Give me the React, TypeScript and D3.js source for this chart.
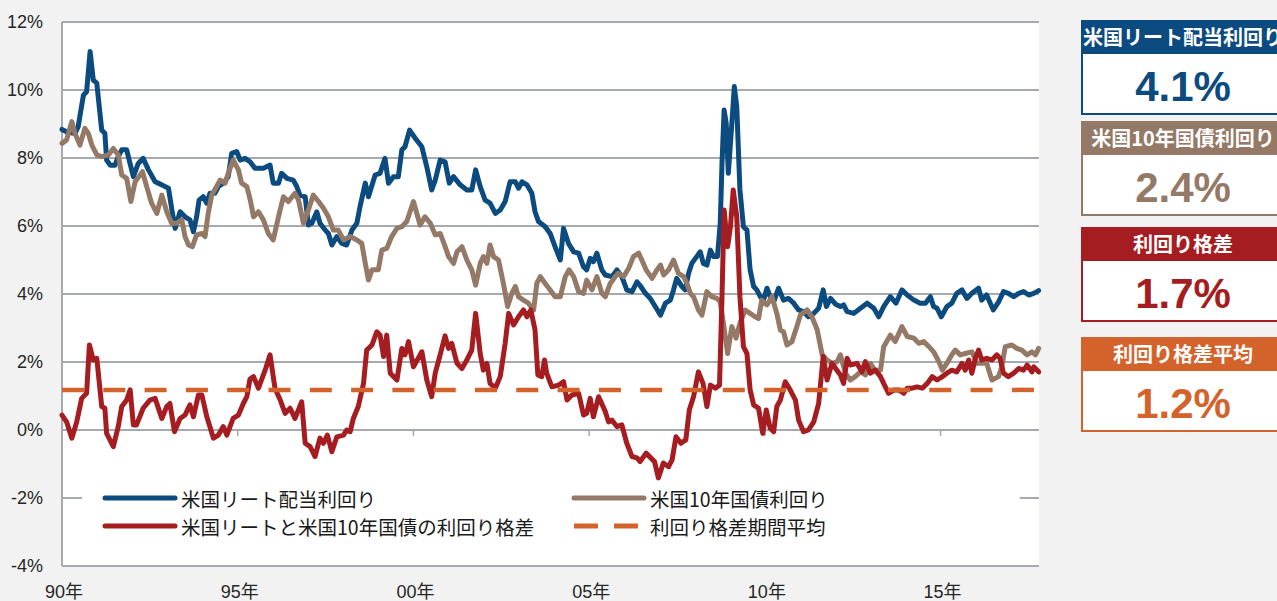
import React from 'react';
import * as d3 from 'd3';

// [decimal year, yield %]
const reitYield: [number, number][] = [
  [1990.00, 8.84], [1990.13, 8.77], [1990.37, 8.72], [1990.46, 8.92], [1990.61, 9.85], [1990.70, 9.95],
  [1990.80, 11.13], [1990.89, 10.29], [1990.99, 10.20], [1991.13, 8.82], [1991.22, 8.73], [1991.27, 7.94],
  [1991.37, 7.79], [1991.51, 7.79], [1991.60, 8.04], [1991.70, 8.24], [1991.84, 8.24], [1992.03, 7.45],
  [1992.17, 7.84], [1992.31, 7.99], [1992.46, 7.65], [1992.65, 7.30], [1992.84, 7.21], [1993.03, 7.11],
  [1993.12, 6.52], [1993.22, 5.93], [1993.36, 6.42], [1993.50, 6.27], [1993.64, 6.18], [1993.74, 5.83],
  [1993.83, 6.27], [1993.90, 6.76], [1994.02, 6.86], [1994.12, 6.67], [1994.21, 6.96], [1994.35, 6.96],
  [1994.45, 7.16], [1994.59, 7.26], [1994.73, 7.45], [1994.83, 8.14], [1994.97, 8.19], [1995.07, 7.94],
  [1995.21, 7.99], [1995.35, 7.89], [1995.49, 7.70], [1995.73, 7.70], [1995.92, 7.79], [1996.01, 7.26],
  [1996.16, 7.26], [1996.25, 7.55], [1996.40, 7.40], [1996.58, 7.35], [1996.68, 7.16], [1996.77, 6.91],
  [1996.92, 6.86], [1997.01, 6.03], [1997.11, 6.08], [1997.25, 6.42], [1997.34, 6.08], [1997.49, 5.88],
  [1997.58, 5.78], [1997.68, 5.44], [1997.82, 5.69], [1997.96, 5.49], [1998.10, 5.44], [1998.25, 5.88],
  [1998.39, 6.08], [1998.48, 6.57], [1998.63, 7.26], [1998.72, 6.86], [1998.91, 7.50], [1999.05, 7.55],
  [1999.19, 7.99], [1999.29, 7.26], [1999.43, 7.45], [1999.57, 7.45], [1999.67, 8.24], [1999.76, 8.33],
  [1999.89, 8.82], [2000.05, 8.58], [2000.24, 8.33], [2000.38, 7.74], [2000.52, 7.06], [2000.62, 7.35],
  [2000.76, 7.94], [2000.90, 7.89], [2001.02, 7.26], [2001.14, 7.45], [2001.33, 7.21], [2001.52, 7.06],
  [2001.66, 7.06], [2001.77, 7.65], [2001.90, 7.16], [2002.04, 6.76], [2002.18, 6.67], [2002.33, 6.37],
  [2002.47, 6.47], [2002.61, 6.72], [2002.75, 7.30], [2002.90, 7.30], [2002.99, 7.11], [2003.09, 7.30],
  [2003.23, 7.21], [2003.37, 6.96], [2003.46, 6.42], [2003.56, 6.13], [2003.75, 5.98], [2003.89, 5.78],
  [2004.03, 5.39], [2004.18, 5.00], [2004.27, 5.93], [2004.41, 5.49], [2004.56, 5.24], [2004.70, 5.20],
  [2004.84, 4.80], [2004.93, 4.71], [2005.03, 5.05], [2005.12, 4.95], [2005.22, 5.20], [2005.36, 4.71],
  [2005.46, 4.56], [2005.65, 4.51], [2005.79, 4.71], [2005.93, 4.51], [2006.07, 4.12], [2006.22, 4.07],
  [2006.36, 4.36], [2006.45, 4.25], [2006.60, 4.02], [2006.74, 3.87], [2006.88, 3.63], [2007.03, 3.38],
  [2007.17, 3.73], [2007.31, 3.82], [2007.40, 4.12], [2007.49, 4.46], [2007.64, 4.22], [2007.73, 4.12],
  [2007.83, 4.61], [2007.92, 4.90], [2008.06, 5.10], [2008.16, 5.24], [2008.25, 4.90], [2008.35, 4.85],
  [2008.45, 5.29], [2008.54, 5.10], [2008.65, 5.10], [2008.73, 6.08], [2008.78, 7.84], [2008.84, 9.41],
  [2008.90, 9.02], [2008.96, 7.55], [2009.06, 9.02], [2009.13, 10.10], [2009.20, 9.51], [2009.29, 7.06],
  [2009.39, 5.98], [2009.49, 5.88], [2009.58, 4.71], [2009.68, 4.22], [2009.77, 4.12], [2009.87, 3.92],
  [2009.96, 3.82], [2010.06, 4.17], [2010.15, 3.92], [2010.25, 3.77], [2010.39, 4.17], [2010.53, 3.82],
  [2010.67, 3.87], [2010.82, 3.73], [2010.96, 3.53], [2011.10, 3.48], [2011.24, 3.33], [2011.39, 3.43],
  [2011.53, 3.58], [2011.66, 4.12], [2011.75, 3.63], [2011.87, 3.87], [2012.01, 3.70], [2012.15, 3.63],
  [2012.24, 3.68], [2012.34, 3.48], [2012.53, 3.43], [2012.72, 3.58], [2012.91, 3.73], [2013.10, 3.58],
  [2013.24, 3.33], [2013.38, 3.63], [2013.57, 3.92], [2013.73, 3.73], [2013.90, 4.12], [2014.05, 3.97],
  [2014.24, 3.82], [2014.42, 3.73], [2014.57, 3.73], [2014.71, 3.92], [2014.80, 3.63], [2014.90, 3.58],
  [2015.02, 3.33], [2015.18, 3.63], [2015.32, 3.73], [2015.46, 4.02], [2015.61, 4.12], [2015.75, 3.87],
  [2015.89, 4.02], [2016.08, 4.17], [2016.17, 3.82], [2016.31, 3.97], [2016.50, 3.53], [2016.65, 3.77],
  [2016.79, 4.07], [2016.93, 4.02], [2017.08, 3.92], [2017.22, 4.02], [2017.36, 4.07], [2017.51, 3.97],
  [2017.65, 4.02], [2017.79, 4.10],
];

const treasuryYield: [number, number][] = [
  [1990.00, 8.43], [1990.13, 8.53], [1990.28, 9.07], [1990.37, 8.72], [1990.51, 8.38], [1990.65, 8.87],
  [1990.75, 8.72], [1990.85, 8.38], [1990.99, 8.09], [1991.13, 8.04], [1991.32, 8.09], [1991.46, 8.28],
  [1991.60, 8.09], [1991.70, 7.50], [1991.84, 7.40], [1991.96, 6.72], [1992.08, 7.30], [1992.29, 7.60],
  [1992.41, 7.16], [1992.55, 6.67], [1992.70, 6.37], [1992.84, 6.91], [1992.98, 6.42], [1993.12, 6.08],
  [1993.26, 6.08], [1993.41, 6.18], [1993.50, 5.69], [1993.60, 5.44], [1993.71, 5.39], [1993.83, 5.74],
  [1993.98, 5.78], [1994.07, 5.69], [1994.16, 6.37], [1994.26, 6.91], [1994.40, 7.16], [1994.50, 7.35],
  [1994.64, 7.26], [1994.73, 7.55], [1994.87, 7.94], [1995.02, 7.65], [1995.11, 7.26], [1995.26, 7.16],
  [1995.35, 6.80], [1995.45, 6.27], [1995.59, 6.42], [1995.73, 6.18], [1995.87, 5.78], [1996.01, 5.59],
  [1996.16, 6.27], [1996.30, 6.86], [1996.44, 6.72], [1996.63, 6.96], [1996.73, 6.76], [1996.87, 6.08],
  [1997.01, 6.47], [1997.15, 6.91], [1997.30, 6.72], [1997.44, 6.52], [1997.58, 6.27], [1997.72, 5.88],
  [1997.86, 5.88], [1998.01, 5.59], [1998.20, 5.69], [1998.39, 5.59], [1998.53, 5.49], [1998.63, 4.90],
  [1998.72, 4.41], [1998.82, 4.71], [1999.00, 4.71], [1999.10, 5.29], [1999.24, 5.34], [1999.38, 5.69],
  [1999.53, 5.93], [1999.67, 5.98], [1999.81, 6.13], [2000.00, 6.72], [2000.19, 6.03], [2000.33, 6.27],
  [2000.48, 6.08], [2000.62, 5.74], [2000.76, 5.78], [2000.90, 5.40], [2001.00, 5.10], [2001.14, 4.90],
  [2001.24, 5.24], [2001.38, 5.39], [2001.52, 5.00], [2001.66, 4.71], [2001.77, 4.26], [2001.90, 4.90],
  [2001.99, 5.10], [2002.09, 4.90], [2002.18, 5.44], [2002.28, 5.10], [2002.42, 5.00], [2002.56, 4.31],
  [2002.68, 3.63], [2002.80, 4.02], [2002.90, 4.22], [2002.99, 3.92], [2003.13, 3.82], [2003.27, 3.73],
  [2003.42, 3.53], [2003.51, 4.31], [2003.61, 4.51], [2003.75, 4.31], [2003.89, 4.12], [2004.03, 3.92],
  [2004.18, 3.92], [2004.32, 4.51], [2004.43, 4.71], [2004.56, 4.51], [2004.70, 4.07], [2004.84, 4.02],
  [2004.93, 4.41], [2005.08, 4.12], [2005.22, 4.51], [2005.36, 4.02], [2005.46, 3.92], [2005.60, 4.31],
  [2005.74, 4.51], [2005.83, 4.61], [2005.98, 4.51], [2006.12, 4.75], [2006.26, 5.10], [2006.41, 5.20],
  [2006.52, 4.95], [2006.62, 4.71], [2006.79, 4.46], [2006.93, 4.71], [2007.03, 4.85], [2007.12, 4.56],
  [2007.26, 4.71], [2007.40, 5.00], [2007.54, 4.61], [2007.69, 4.51], [2007.78, 4.31], [2007.88, 4.02],
  [2007.97, 3.92], [2008.11, 3.53], [2008.21, 3.38], [2008.35, 4.07], [2008.49, 3.92], [2008.63, 3.87],
  [2008.73, 3.77], [2008.82, 3.14], [2008.94, 2.25], [2009.06, 3.04], [2009.18, 2.70], [2009.29, 3.14],
  [2009.44, 3.53], [2009.58, 3.43], [2009.72, 3.33], [2009.82, 3.28], [2009.91, 3.82], [2010.06, 3.68],
  [2010.20, 3.92], [2010.34, 3.43], [2010.44, 2.94], [2010.53, 2.89], [2010.63, 2.50], [2010.77, 2.60],
  [2010.91, 3.04], [2011.01, 3.38], [2011.20, 3.53], [2011.34, 3.33], [2011.49, 2.94], [2011.63, 2.21],
  [2011.77, 2.06], [2011.91, 1.96], [2012.05, 2.00], [2012.15, 2.21], [2012.29, 1.67], [2012.43, 1.47],
  [2012.57, 1.57], [2012.72, 1.71], [2012.86, 1.62], [2013.00, 1.96], [2013.14, 1.76], [2013.29, 1.76],
  [2013.38, 2.45], [2013.57, 2.79], [2013.71, 2.60], [2013.90, 3.04], [2014.05, 2.75], [2014.24, 2.70],
  [2014.38, 2.55], [2014.52, 2.60], [2014.67, 2.45], [2014.80, 2.30], [2014.95, 2.01], [2015.05, 1.76],
  [2015.18, 1.96], [2015.32, 2.21], [2015.42, 2.35], [2015.56, 2.21], [2015.70, 2.25], [2015.89, 2.30],
  [2016.03, 1.96], [2016.17, 1.96], [2016.31, 1.96], [2016.46, 1.47], [2016.65, 1.57], [2016.74, 1.86],
  [2016.84, 2.45], [2017.03, 2.50], [2017.17, 2.40], [2017.31, 2.35], [2017.46, 2.21], [2017.60, 2.30],
  [2017.70, 2.21], [2017.79, 2.40],
];

const yieldSpread: [number, number][] = [
  [1990.00, 0.44], [1990.13, 0.24], [1990.28, -0.24], [1990.42, 0.24], [1990.56, 0.93], [1990.70, 1.08],
  [1990.78, 2.50], [1990.89, 2.06], [1990.99, 2.11], [1991.13, 0.69], [1991.22, 0.64], [1991.27, -0.10],
  [1991.46, -0.49], [1991.60, 0.10], [1991.70, 0.69], [1991.84, 0.88], [1991.94, 1.18], [1992.03, 0.15],
  [1992.12, 0.15], [1992.31, 0.64], [1992.50, 0.88], [1992.65, 0.93], [1992.84, 0.34], [1992.98, 0.69],
  [1993.07, 0.78], [1993.20, -0.05], [1993.36, 0.34], [1993.50, 0.44], [1993.64, 0.74], [1993.74, 0.39],
  [1993.88, 1.03], [1993.98, 1.03], [1994.12, 0.39], [1994.31, -0.24], [1994.45, -0.15], [1994.59, 0.10],
  [1994.69, -0.15], [1994.87, 0.34], [1995.02, 0.44], [1995.16, 0.78], [1995.26, 0.98], [1995.35, 1.50],
  [1995.45, 1.57], [1995.59, 1.23], [1995.78, 1.76], [1995.92, 2.21], [1996.06, 1.23], [1996.21, 0.88],
  [1996.35, 0.49], [1996.49, 0.64], [1996.63, 0.34], [1996.82, 0.83], [1996.92, -0.39], [1997.06, -0.49],
  [1997.20, -0.78], [1997.34, -0.24], [1997.44, -0.39], [1997.55, -0.15], [1997.68, -0.64], [1997.82, -0.20],
  [1998.01, -0.15], [1998.10, 0.00], [1998.20, -0.05], [1998.29, 0.34], [1998.43, 0.69], [1998.58, 1.37],
  [1998.67, 2.35], [1998.82, 2.50], [1998.96, 2.89], [1999.05, 2.79], [1999.15, 2.16], [1999.24, 2.79],
  [1999.34, 1.67], [1999.53, 1.47], [1999.67, 2.40], [1999.76, 2.21], [1999.86, 2.60], [2000.00, 1.86],
  [2000.24, 2.30], [2000.38, 1.47], [2000.52, 0.98], [2000.62, 1.67], [2000.76, 2.21], [2000.90, 2.77],
  [2001.00, 2.40], [2001.09, 2.55], [2001.24, 1.96], [2001.38, 1.81], [2001.52, 2.06], [2001.66, 2.35],
  [2001.77, 3.43], [2001.90, 2.25], [2001.99, 1.76], [2002.09, 1.96], [2002.18, 1.37], [2002.33, 1.23],
  [2002.47, 1.57], [2002.61, 2.55], [2002.71, 3.43], [2002.85, 3.09], [2002.99, 3.33], [2003.13, 3.53],
  [2003.23, 3.33], [2003.34, 3.53], [2003.46, 2.94], [2003.54, 1.62], [2003.65, 1.57], [2003.73, 2.06],
  [2003.79, 1.67], [2003.94, 1.27], [2004.13, 1.32], [2004.27, 1.42], [2004.37, 0.88], [2004.51, 1.03],
  [2004.70, 1.08], [2004.84, 0.44], [2004.93, 0.49], [2005.03, 0.93], [2005.12, 0.39], [2005.27, 0.98],
  [2005.46, 0.54], [2005.55, 0.24], [2005.65, 0.29], [2005.79, 0.10], [2005.93, 0.15], [2006.07, -0.39],
  [2006.22, -0.78], [2006.36, -0.82], [2006.45, -0.93], [2006.62, -0.68], [2006.86, -0.93], [2006.97, -1.41],
  [2007.11, -0.97], [2007.26, -1.08], [2007.36, -0.88], [2007.47, -0.20], [2007.61, -0.39], [2007.75, -0.29],
  [2007.85, 0.59], [2007.97, 0.98], [2008.11, 1.71], [2008.24, 1.37], [2008.35, 0.69], [2008.45, 1.32],
  [2008.59, 1.23], [2008.71, 1.32], [2008.78, 3.92], [2008.84, 6.47], [2008.94, 5.39], [2009.02, 5.98],
  [2009.10, 7.06], [2009.20, 6.27], [2009.29, 3.92], [2009.39, 2.45], [2009.49, 2.25], [2009.58, 1.18],
  [2009.68, 0.74], [2009.82, 0.64], [2009.94, -0.10], [2010.04, 0.59], [2010.15, 0.05], [2010.25, -0.05],
  [2010.34, 0.69], [2010.44, 0.88], [2010.58, 1.42], [2010.72, 1.18], [2010.87, 0.88], [2010.96, 0.29],
  [2011.10, -0.05], [2011.24, 0.00], [2011.39, 0.24], [2011.53, 0.78], [2011.66, 2.16], [2011.77, 1.47],
  [2011.91, 1.96], [2012.05, 1.76], [2012.15, 1.62], [2012.24, 1.37], [2012.34, 2.11], [2012.43, 1.91],
  [2012.62, 1.96], [2012.76, 1.71], [2012.86, 2.01], [2013.00, 1.67], [2013.14, 1.76], [2013.29, 1.57],
  [2013.38, 1.37], [2013.52, 1.08], [2013.67, 1.18], [2013.81, 1.18], [2013.95, 1.08], [2014.05, 1.23],
  [2014.19, 1.23], [2014.33, 1.27], [2014.48, 1.23], [2014.62, 1.37], [2014.76, 1.57], [2014.90, 1.47],
  [2015.05, 1.57], [2015.18, 1.67], [2015.32, 1.76], [2015.46, 1.71], [2015.61, 1.96], [2015.70, 1.76],
  [2015.80, 2.06], [2015.89, 1.67], [2015.99, 2.11], [2016.08, 2.35], [2016.17, 2.06], [2016.31, 2.11],
  [2016.46, 2.06], [2016.60, 2.21], [2016.69, 2.11], [2016.79, 1.67], [2016.93, 1.57], [2017.08, 1.67],
  [2017.22, 1.81], [2017.36, 1.76], [2017.46, 1.91], [2017.60, 1.71], [2017.65, 1.86], [2017.79, 1.71],
];

const spreadAverage = 1.18;

const yTicks = [-4, -2, 0, 2, 4, 6, 8, 10, 12];
const xTickYears = [1990, 1995, 2000, 2005, 2010, 2015];
const xTickLabels = ['90年', '95年', '00年', '05年', '10年', '15年'];

const legendLabels = [
  '米国リート配当利回り',
  '米国10年国債利回り',
  '米国リートと米国10年国債の利回り格差',
  '利回り格差期間平均',
];

const cardTitles = ['米国リート配当利回り', '米国10年国債利回り', '利回り格差', '利回り格差平均'];
const cardValues = ['4.1%', '2.4%', '1.7%', '1.2%'];

const BLUE = '#0b4b80';
const BROWN = '#957967';
const RED = '#a51d21';
const ORANGE = '#d4622b';
const GRID = '#a6a9ad';
const FONT = "'Liberation Sans', 'Noto Sans CJK JP', sans-serif";
const CJK = "'Noto Sans CJK JP', 'Liberation Sans', sans-serif";

export default function App() {
  const W = 1277;
  const H = 601;
  const x = d3.scaleLinear().domain([1990, 2017.8]).range([62, 1039]);
  const y = d3.scaleLinear().domain([-4, 12]).range([566, 22]);
  const line = d3
    .line<[number, number]>()
    .x((d) => x(d[0]))
    .y((d) => y(d[1]));

  const cardColors = [BLUE, BROWN, RED, ORANGE];
  const cardTops = [21, 122, 228, 338];
  const cardLeft = 1082;
  const cardWidth = 206;
  const headerH = 32;
  const cardH = 93;
  const cardCx = 1183;

  const legendRows = [498, 526];
  const legendCols = [105, 574];

  return (
    <svg
      width={W}
      height={H}
      style={{ position: 'absolute', left: 0, top: 0, display: 'block' }}
      xmlns="http://www.w3.org/2000/svg"
    >
      <rect x={0} y={0} width={W} height={H} fill="#f2f2f2" />
      <rect x={x(1990)} y={y(12)} width={x(2017.8) - x(1990)} height={y(-4) - y(12)} fill="#ffffff" />

      {/* gridlines */}
      {yTicks.map((t) => (
        <line key={t} x1={x(1990)} x2={x(2017.8)} y1={y(t)} y2={y(t)} stroke={GRID} strokeWidth={2} />
      ))}
      {/* left axis */}
      <line x1={x(1990)} x2={x(1990)} y1={y(12)} y2={y(-4)} stroke={GRID} strokeWidth={2} />
      {/* category ticks on zero line */}
      {xTickYears.map((yr) => (
        <line key={yr} x1={x(yr)} x2={x(yr)} y1={y(0)} y2={y(0) + 6} stroke={GRID} strokeWidth={1.5} />
      ))}

      {/* y labels */}
      {yTicks.map((t) => (
        <text
          key={t}
          x={43}
          y={y(t)}
          textAnchor="end"
          dominantBaseline="central"
          fontFamily={FONT}
          fontSize={18}
          fill="#262626"
        >
          {`${t}%`}
        </text>
      ))}
      {/* x labels */}
      {xTickYears.map((yr, i) => (
        <text
          key={yr}
          x={x(yr) + 2}
          y={598}
          textAnchor="middle"
          fontFamily={FONT}
          fontSize={18}
          fill="#262626"
        >
          {xTickLabels[i]}
        </text>
      ))}

      {/* series */}
      <g fill="none" strokeLinejoin="round" strokeLinecap="round">
        <path d={line(reitYield) || ''} stroke={BLUE} strokeWidth={5} />
        <path d={line(treasuryYield) || ''} stroke={BROWN} strokeWidth={5} />
        <path d={line(yieldSpread) || ''} stroke={RED} strokeWidth={5} />
        <line
          x1={x(1990)}
          x2={x(2017.8)}
          y1={y(spreadAverage)}
          y2={y(spreadAverage)}
          stroke={ORANGE}
          strokeWidth={4.5}
          strokeLinecap="butt"
          strokeDasharray="22 19.3"
        />
      </g>

      {/* legend */}
      <rect x={82} y={482} width={938} height={60} fill="#ffffff" />
      {legendLabels.map((lbl, i) => {
        const col = legendCols[i % 2];
        const row = legendRows[Math.floor(i / 2)];
        const color = [BLUE, BROWN, RED, ORANGE][i];
        return (
          <g key={lbl}>
            {i === 3 ? (
              <line
                x1={col}
                x2={col + 64}
                y1={row}
                y2={row}
                stroke={color}
                strokeWidth={5}
                strokeDasharray="24 16"
              />
            ) : (
              <line x1={col} x2={col + 70} y1={row} y2={row} stroke={color} strokeWidth={5} strokeLinecap="round" />
            )}
            <text
              x={col + 76}
              y={row}
              dominantBaseline="central"
              fontFamily={CJK}
              fontSize={19.5}
              fill="#1a1a1a"
            >
              {lbl}
            </text>
          </g>
        );
      })}

      {/* summary cards */}
      {cardTitles.map((title, i) => {
        const top = cardTops[i];
        const c = cardColors[i];
        return (
          <g key={title}>
            <rect x={cardLeft} y={top} width={cardWidth} height={cardH} fill="#ffffff" stroke={c} strokeWidth={2} />
            <rect x={cardLeft} y={top} width={cardWidth} height={headerH} fill={c} stroke={c} strokeWidth={2} />
            <text
              x={cardCx}
              y={top + 24}
              textAnchor="middle"
              fontFamily={CJK}
              fontWeight={700}
              fontSize={20}
              fill="#ffffff"
            >
              {title}
            </text>
            <text
              x={cardCx}
              y={top + 80}
              textAnchor="middle"
              fontFamily={FONT}
              fontWeight={700}
              fontSize={42}
              fill={c}
            >
              {cardValues[i]}
            </text>
          </g>
        );
      })}
    </svg>
  );
}
